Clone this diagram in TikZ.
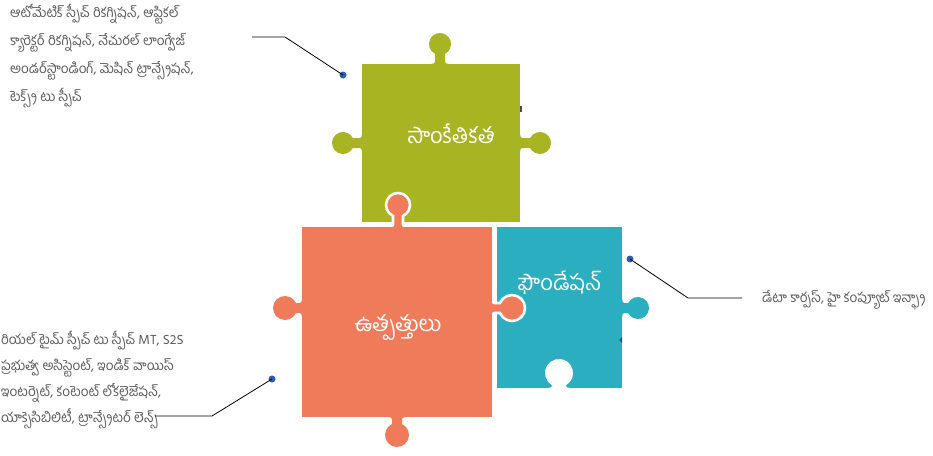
\documentclass[tikz,border=0pt]{standalone}
\usepackage{fontspec}
\newfontfamily\tel[Script=Telugu]{Hind Guntur}
\definecolor{pgreen}{HTML}{A9B423}
\definecolor{porange}{HTML}{F07B5A}
\definecolor{pteal}{HTML}{2BAFC0}
\definecolor{dotblue}{HTML}{2E5DB0}
\definecolor{txtgray}{HTML}{595959}
% \knob{x}{y}{rotation}{h}{r}{w}{fill options}
\newcommand\knob[7]{%
  \begin{scope}[shift={(#1,#2)},rotate=#3,x=1pt,y=1pt]
    \pgfmathsetmacro\kbeta{acos(#6/#5)}
    \pgfmathsetmacro\kyA{#4-sqrt(#5*#5-#6*#6)}
    \path[#7] (-#6-4,-3) -- (-#6-4,0) .. controls (-#6-1,0) and (-#6,1) .. (-#6,2.5)
      -- (-#6,\kyA) arc[start angle=180+\kbeta, end angle=-\kbeta, radius=#5pt]
      -- (#6,2.5) .. controls (#6,1) and (#6+1,0) .. (#6+4,0) -- (#6+4,-3) -- cycle;
  \end{scope}}
\tikzset{
  side/.style={font=\tel\fontsize{13.5}{15}\selectfont, text=txtgray, inner sep=0pt, anchor=base west},
  title/.style={font=\tel\fontsize{22}{24}\selectfont, text=white, inner sep=0pt},
  leader/.style={line width=0.8pt, black},
  dot/.style={circle, fill=dotblue, inner sep=0pt, minimum size=7pt},
  outl/.style={fill=#1, draw=white, line width=2.6pt},
}
\begin{document}
\begin{tikzpicture}[x=1pt,y=-1pt]
\useasboundingbox (0,0) rectangle (933,455);
% green piece
\knob{440}{64}{0}{20}{11}{5}{fill=pgreen}
\knob{362}{143}{90}{19}{11}{5}{fill=pgreen}
\knob{520}{143}{-90}{20}{11}{5}{fill=pgreen}
\fill[pgreen] (362,64) rectangle (520,222);
\fill[black!70] (519.5,106) rectangle (521.5,112);
% teal piece
\fill[pteal] (497,227) rectangle (622,388);
\knob{622}{308}{-90}{16}{11}{5}{fill=pteal}
\knob{559}{388}{0}{15}{14}{7}{fill=white}
\fill[black!70] (622,337) -- (619,340) -- (622,343) -- cycle;
% orange piece
\knob{398}{227}{0}{22}{12}{5}{outl=porange}
\knob{492}{308}{-90}{20}{13}{5}{outl=porange}
\knob{302}{308}{90}{17}{12}{5}{fill=porange}
\knob{397}{417}{180}{18}{12}{5}{fill=porange}
\fill[porange] (302,227) rectangle (492,417);
% titles
\node[title] (tg) at (451,134) {సాంకేతికత};
\node[title] (to) at (398,328) {ఉత్పత్తులు};
\node[title] (tt) at (560,283) {ఫౌండేషన్};
% top-left text
\node[side] (a1) at (10,17.5) {ఆటోమేటిక్ స్పీచ్ రికగ్నిషన్, ఆప్టికల్};
\node[side] (a2) at (10,45.5) {క్యారెక్టర్ రికగ్నిషన్, నేచురల్ లాంగ్వేజ్};
\node[side] (a3) at (10,73.5) {అండర్‌స్టాండింగ్, మెషిన్ ట్రాన్స్లేషన్,};
\node[side] (a4) at (10,101.5) {టెక్స్ట్ టు స్పీచ్};
% right text
\node[side] (b1) at (762,302.5) {డేటా కార్పస్, హై కంప్యూట్ ఇన్ఫ్రా};
% bottom-left text
\node[side] (c1) at (1,344.5) {రియల్ టైమ్ స్పీచ్ టు స్పీచ్ MT, S2S};
\node[side] (c2) at (1,370.5) {ప్రభుత్వ అసిస్టెంట్, ఇండిక్ వాయిస్};
\node[side] (c3) at (1,396.5) {ఇంటర్నెట్, కంటెంట్ లోకలైజేషన్,};
\node[side] (c4) at (1,422.5) {యాక్సెసిబిలిటీ, ట్రాన్స్లేటర్ లెన్స్};
% leaders
\node[dot] (d1) at (343,75) {};
\coordinate (e1a) at (285,37);
\coordinate (e1b) at (252,37);
\draw[leader] (d1.center) -- (e1a) -- (e1b);
\node[dot] (d2) at (630,259) {};
\coordinate (e2a) at (688,298);
\coordinate (e2b) at (742,298);
\draw[leader] (d2.center) -- (e2a) -- (e2b);
\node[dot] (d3) at (272,379) {};
\coordinate (e3a) at (212,416);
\coordinate (e3b) at (155,416);
\draw[leader] (d3.center) -- (e3a) -- (e3b);
\end{tikzpicture}
\end{document}
